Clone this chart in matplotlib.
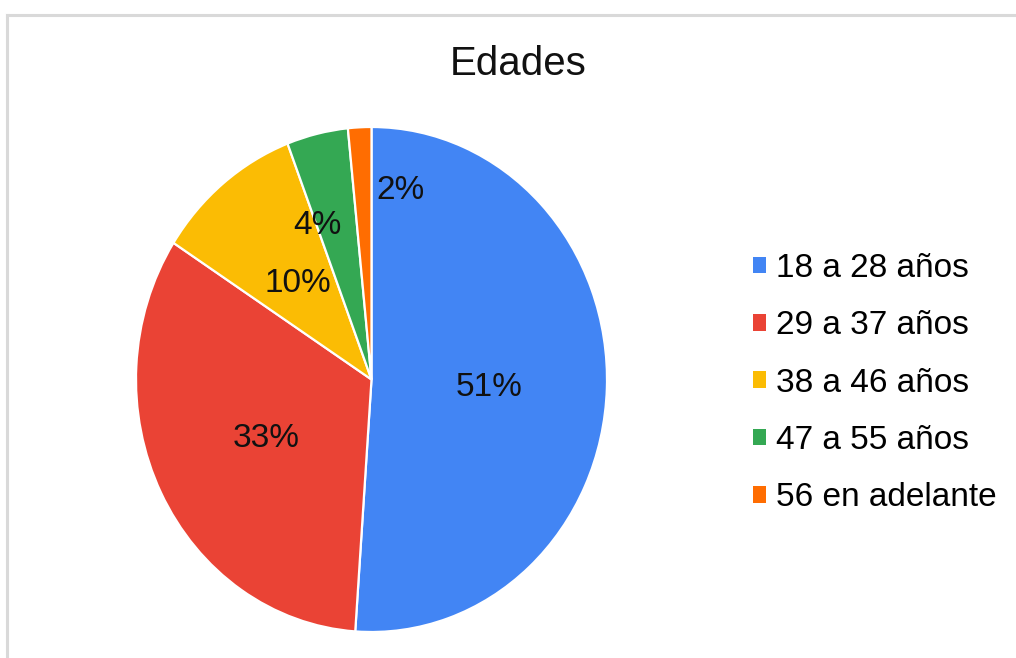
import numpy as np
import matplotlib
matplotlib.use("Agg")
import matplotlib.pyplot as plt
from matplotlib.patches import Patch
from matplotlib.lines import Line2D

plt.rcParams['font.family'] = ['Liberation Sans', 'DejaVu Sans']

# Age groups and their share of respondents (%)
categories = ["18 a 28 años", "29 a 37 años", "38 a 46 años", "47 a 55 años", "56 en adelante"]
shares = [51.1, 33.0, 10.1, 4.2, 1.6]
colors = ["#4285F4", "#EA4335", "#FBBC04", "#34A853", "#FF6D01"]
title = "Edades"

W, H = 1016, 658
fig = plt.figure(figsize=(W / 100, H / 100), dpi=100)

# light grey frame of the chart card (top and left edges visible)
frame_col = "#d9d9d9"
fig.add_artist(Line2D([7 / W, 7 / W], [0, 1 - 15 / H], transform=fig.transFigure,
                      color=frame_col, lw=2.2))
fig.add_artist(Line2D([7 / W, 1], [1 - 15 / H, 1 - 15 / H], transform=fig.transFigure,
                      color=frame_col, lw=2.2))

# pie axes
cx, cy, rx, ry = 371.5, 379.5, 235.5, 252.5
ax = fig.add_axes([(cx - rx) / W, 1 - (cy + ry) / H, 2 * rx / W, 2 * ry / H])
wedges, _ = ax.pie(shares, colors=colors, startangle=90, counterclock=False,
                   wedgeprops=dict(edgecolor="white", linewidth=1.6))
ax.set_aspect("auto")
ax.set_xlim(-1, 1)
ax.set_ylim(-1, 1)
ax.axis("off")

# percentage labels, placed along each wedge's bisector
label_r = [0.50, 0.50, 0.50, 0.66, 0.77]
label_shift = [-0.5, 0.0, -0.6, 7.0, -12.0]  # degrees, keeps small-slice labels readable
for w, s, r, d in zip(wedges, shares, label_r, label_shift):
    ang = np.deg2rad((w.theta1 + w.theta2) / 2 + d)
    ax.text(r * np.cos(ang), r * np.sin(ang) - 0.01, f"{s:.0f}%", ha="center", va="center",
            fontsize=24, color="#111111")

fig.text(518 / W, 1 - 64 / H, title, ha="center", va="center", fontsize=29, color="#111111")

handles = [Patch(facecolor=c, edgecolor="none") for c in colors]
fig.legend(handles, categories, loc="center left", bbox_to_anchor=(740 / W, 1 - 383 / H),
           frameon=False, fontsize=24, handlelength=0.39, handleheight=0.39,
           handletextpad=0.3, labelspacing=0.79, borderaxespad=0)

fig.savefig("out.png", dpi=100, facecolor="white")
